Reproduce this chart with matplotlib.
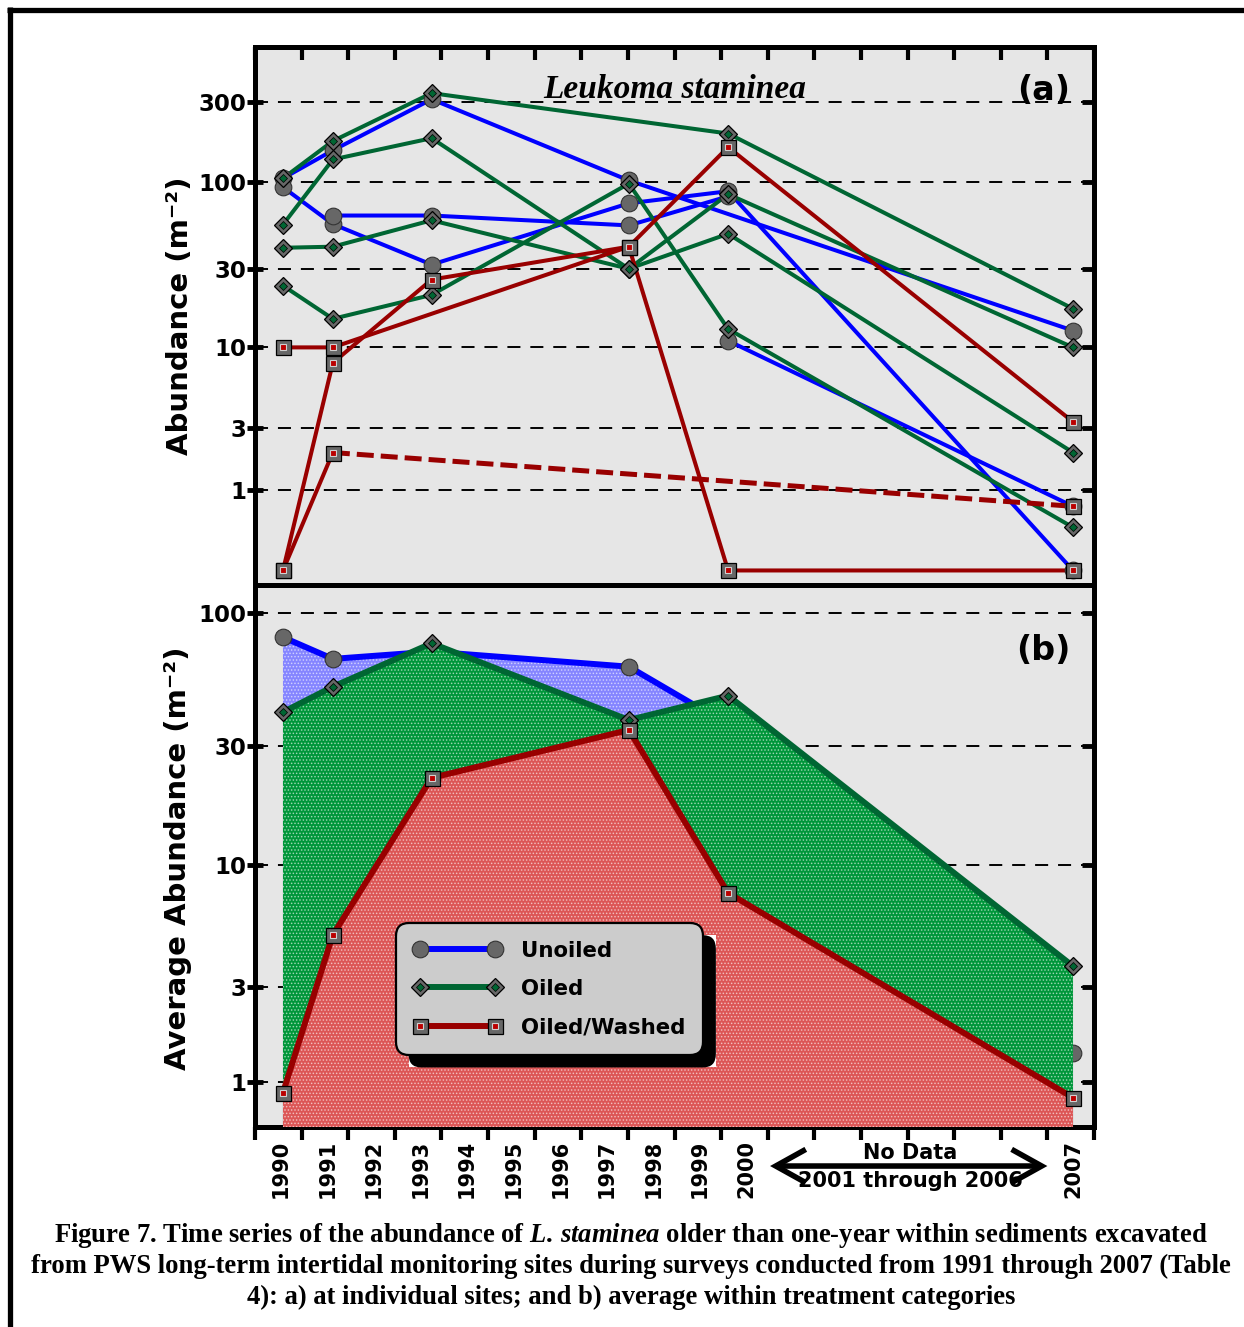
import numpy as np
import matplotlib.pyplot as plt
import matplotlib.lines as mlines
from matplotlib.patches import FancyBboxPatch, Rectangle
from matplotlib.legend_handler import HandlerTuple
from matplotlib.ticker import NullLocator

plt.rcParams['font.family'] = 'DejaVu Sans'
plt.rcParams['font.weight'] = 'bold'
plt.rcParams['mathtext.fontset'] = 'custom'
plt.rcParams['mathtext.rm'] = 'Liberation Serif:bold'
plt.rcParams['mathtext.it'] = 'Liberation Serif:italic:bold'
plt.rcParams['hatch.linewidth'] = 0.7

nan = np.nan

# survey dates as plotted (decimal years)
survey_x = [1990.6, 1991.67, 1993.79, 1998.02, 2000.15, 2007.55]

# (a) abundance per m2 at the individual sites, nan = not sampled
unoiled_sites = [
    [105, 154, 310, 102, nan, 12.7],
    [93, 56, 32, 74.5, 88, 0],
    [nan, 63, 63, 55, 82, nan],
    [nan, nan, nan, nan, 11, 0.7],
]
oiled_sites = [
    [105, 175, 337, nan, 194, 17.3],
    [55.6, 136, 182, 30.2, 84.4, 10],
    [40.4, 41, 59, 30.2, 49, 2.0],
    [23.9, 15, 21, 97.7, 13, 0.4],
]
washed_sites = [
    [10, 10, nan, 41, 161, 3.3],
    [0, 8, 26, 41, 0, 0],
    [0, 2, nan, nan, nan, 0.7],
]
# line becomes dashed after this point (long gap in the record)
washed_dash_from = [None, None, 1]

# (b) average within treatment
unoiled_avg = [80.4, 66.1, 70.6, 61.6, 36.4, 1.45]
oiled_avg = [40.8, 51.4, 76.1, 38.0, 47.4, 3.73]
washed_avg = [0.86, 5.1, 22.4, 34.7, 7.66, 0.80]

year_ticks = list(range(1990, 2009))
year_labels = ['1990', '1991', '1992', '1993', '1994', '1995', '1996',
               '1997', '1998', '1999', '2000', '2007']
yticks_a = [1, 3, 10, 30, 100, 300]
yticks_b = [1, 3, 10, 30, 100]

BLUE = '#0000ff'
GREEN = '#006633'
RED = '#990000'
GRAY = '#676767'
BG = '#e6e6e6'


def fwd(v):
    return np.log10(np.clip(np.asarray(v, float) + 0.5, 1e-6, None))


def inv(t):
    return 10 ** np.asarray(t, float) - 0.5


def put_markers(ax, xs, ys, kind, z):
    if kind == 'unoiled':
        ax.plot(xs, ys, ls='none', marker='o', ms=12, mfc=GRAY, mec='#333333',
                mew=0.8, zorder=z)
    elif kind == 'oiled':
        ax.plot(xs, ys, ls='none', marker='D', ms=9.2, mfc=GRAY, mec='black',
                mew=0.9, zorder=z)
        ax.plot(xs, ys, ls='none', marker='D', ms=4.2, mfc=GREEN, mec='black',
                mew=0.5, zorder=z)
    else:
        ax.plot(xs, ys, ls='none', marker='s', ms=10.8, mfc=GRAY, mec='black',
                mew=0.9, zorder=z)
        ax.plot(xs, ys, ls='none', marker='s', ms=5, mfc='#bb0000', mec='#d0d0d0',
                mew=0.8, zorder=z)


def style_axes(ax, yticks, ylim):
    ax.set_facecolor(BG)
    ax.set_yscale('function', functions=(fwd, inv))
    ax.set_ylim(*ylim)
    ax.set_xlim(1990, 2008)
    ax.set_yticks(yticks, labels=[str(t) for t in yticks])
    ax.yaxis.set_minor_locator(NullLocator())
    ax.tick_params(axis='y', which='major', left=True, right=False,
                   direction='inout', length=11, width=3.5, pad=1, labelsize=16.5)
    ax.grid(axis='y', which='major', color='k', lw=1.4, linestyle=(0, (6.7, 5.1)))
    ax.set_axisbelow(True)
    for s in ax.spines.values():
        s.set_linewidth(3.6)
    # inward ticks on the right edge
    ax.plot([1] * len(yticks), yticks, ls='none', marker=mlines.TICKLEFT, ms=9,
            mew=3.5, color='k', transform=ax.get_yaxis_transform(), clip_on=False,
            zorder=6)


fig = plt.figure(figsize=(12.44, 13.27), dpi=100)
ax_a = fig.add_axes([255 / 1244, 1 - 585 / 1327, 839 / 1244, 538 / 1327])
ax_b = fig.add_axes([255 / 1244, 1 - 1127 / 1327, 839 / 1244, 542 / 1327])

style_axes(ax_a, yticks_a, (-0.09, 633))
style_axes(ax_b, yticks_b, (0.5, 128.7))

# ---- panel (a): individual sites
x = np.array(survey_x)
for sites, color, kind in [(unoiled_sites, BLUE, 'unoiled'),
                           (oiled_sites, GREEN, 'oiled')]:
    for vals in sites:
        y = np.array(vals, float)
        m = ~np.isnan(y)
        ax_a.plot(x[m], y[m], color=color, lw=2.9, zorder=3)

for vals, dash_from in zip(washed_sites, washed_dash_from):
    y = np.array(vals, float)
    m = ~np.isnan(y)
    xv, yv = x[m], y[m]
    if dash_from is None:
        ax_a.plot(xv, yv, color=RED, lw=2.9, zorder=3)
    else:
        ax_a.plot(xv[:dash_from + 1], yv[:dash_from + 1], color=RED, lw=2.9, zorder=3)
        ax_a.plot(xv[dash_from:], yv[dash_from:], color=RED, lw=3.6,
                  linestyle=(0, (3.4, 1.4)), zorder=3)

for sites, kind, z in [(unoiled_sites, 'unoiled', 4), (oiled_sites, 'oiled', 4.1),
                       (washed_sites, 'washed', 4.2)]:
    for vals in sites:
        y = np.array(vals, float)
        m = ~np.isnan(y)
        put_markers(ax_a, x[m], y[m], kind, z)

ax_a.xaxis.set_ticks_position('top')
ax_a.set_xticks(year_ticks)
ax_a.tick_params(axis='x', which='both', top=True, bottom=False, labeltop=False,
                 labelbottom=False, direction='in', length=9.5, width=3)

ax_a.text(0.5006, 0.905, 'Leukoma staminea', transform=ax_a.transAxes, ha='center',
          va='baseline', fontfamily='Liberation Serif', fontstyle='italic',
          fontweight='bold', fontsize=24, zorder=7)
ax_a.text(0.9714, 0.92, '(a)', transform=ax_a.transAxes, ha='right', va='center',
          fontsize=24, fontweight='bold', zorder=7)

# ---- panel (b): treatment averages, filled to the bottom
fills = [(unoiled_avg, BLUE, '#8585ff', 'unoiled'),
         (oiled_avg, GREEN, '#00963a', 'oiled'),
         (washed_avg, RED, '#dc5656', 'washed')]
z = 1
for vals, color, fillc, kind in fills:
    with plt.rc_context({'hatch.color': (1, 1, 1, 0.55)}):
        ax_b.fill_between(survey_x, vals, 0.5, facecolor=fillc, edgecolor='none',
                          lw=0, hatch='.....', zorder=z)
    ax_b.plot(survey_x, vals, color=color, lw=4.3, zorder=z + 0.1)
    put_markers(ax_b, survey_x, vals, kind, z + 0.2)
    z += 1

ax_b.set_xticks(year_ticks)
ax_b.set_xticks([int(t) + 0.55 for t in year_labels], labels=year_labels, minor=True)
ax_b.tick_params(axis='x', which='major', top=False, bottom=True, direction='out',
                 length=9.5, width=3, labelbottom=False)
ax_b.tick_params(axis='x', which='minor', top=False, bottom=True, length=0, pad=9,
                 labelsize=15, labelrotation=90)
ax_b.text(0.9714, 0.88, '(b)', transform=ax_b.transAxes, ha='right', va='center',
          fontsize=24, fontweight='bold', zorder=7)

tr = ax_b.get_xaxis_transform()
ax_b.annotate('', xy=(2001.05, -0.072), xytext=(2007.0, -0.072), xycoords=tr,
              textcoords=tr, annotation_clip=False,
              arrowprops=dict(arrowstyle='<->,head_length=0.72,head_width=0.4',
                              mutation_scale=30, lw=4, color='k', shrinkA=0,
                              shrinkB=0, joinstyle='miter', capstyle='butt'))
ax_b.text(2004.05, -0.048, 'No Data', transform=tr, ha='center', va='center',
          fontsize=15, fontweight='bold', clip_on=False)
ax_b.text(2004.05, -0.0996, '2001 through 2006', transform=tr, ha='center',
          va='center', fontsize=15, fontweight='bold', clip_on=False)

# legend
h_un = mlines.Line2D([], [], color=BLUE, lw=4.3, marker='o', ms=12, mfc=GRAY,
                     mec='#333333', mew=0.8)
h_oil = (mlines.Line2D([], [], color=GREEN, lw=4.3, marker='D', ms=9.2, mfc=GRAY,
                       mec='k', mew=0.9),
         mlines.Line2D([], [], ls='none', marker='D', ms=4.2, mfc=GREEN, mec='k',
                       mew=0.5))
h_wash = (mlines.Line2D([], [], color=RED, lw=4.3, marker='s', ms=10.8, mfc=GRAY,
                        mec='k', mew=0.9),
          mlines.Line2D([], [], ls='none', marker='s', ms=5, mfc='#bb0000',
                        mec='#d0d0d0', mew=0.8))
leg = ax_b.legend([h_un, h_oil, h_wash], ['Unoiled', 'Oiled', 'Oiled/Washed'],
                  handler_map={tuple: HandlerTuple(ndivide=1, pad=0)}, numpoints=2,
                  loc='upper left', bbox_to_anchor=(396 / 1244, 1 - 922.7 / 1327),
                  bbox_transform=fig.transFigure, borderaxespad=0,
                  prop={'size': 15.3, 'weight': 'bold'}, handlelength=4.1,
                  handletextpad=0.95, labelspacing=0.86, borderpad=0.84,
                  fancybox=True, framealpha=1, facecolor='#cccccc',
                  edgecolor='black')
leg.get_frame().set_linewidth(1.6)
leg.get_frame().set_boxstyle('round', pad=0, rounding_size=0.62)
leg.set_zorder(20)

# y labels
fig.text(180 / 1244, 1 - 316 / 1327, 'Abundance (m\u207b\u00b2)', rotation=90,
         ha='center', va='center', fontsize=21, fontweight='bold')
fig.text(178 / 1244, 1 - 858 / 1327, 'Average Abundance (m\u207b\u00b2)', rotation=90,
         ha='center', va='center', fontsize=21, fontweight='bold')

# caption
caption = [
    r'Figure 7. Time series of the abundance of $\mathit{L.\,staminea}$ '
    r'older than one-year within sediments excavated',
    'from PWS long-term intertidal monitoring sites during surveys conducted from '
    '1991 through 2007 (Table',
    '4): a) at individual sites; and b) average within treatment categories',
]
for line, yy in zip(caption, [1236, 1266, 1297]):
    fig.text(0.507, 1 - yy / 1327, line, ha='center', va='center',
             fontfamily='Liberation Serif', fontweight='bold', fontsize=19.2)

# page frame
fig.add_artist(mlines.Line2D([7 / 1244, 1.0], [1 - 10 / 1327] * 2, color='k', lw=3.8,
                             transform=fig.transFigure, solid_capstyle='butt'))
fig.add_artist(mlines.Line2D([10 / 1244] * 2, [0, 1 - 7 / 1327], color='k', lw=3.8,
                             transform=fig.transFigure, solid_capstyle='butt'))

# legend shadow (black, offset) and the white box behind it
fig.canvas.draw()
bb = leg.get_frame().get_window_extent()
to_fig = fig.transFigure.inverted()
x0, y0 = to_fig.transform((bb.x0 + 12.5, bb.y0 - 12.5))
x1, y1 = to_fig.transform((bb.x1 + 12.5, bb.y1 - 12.5))
ax_b.add_patch(Rectangle((x0, y0), x1 - x0, y1 - y0, transform=fig.transFigure,
                         fc='white', ec='none', zorder=18, clip_on=False))
ax_b.add_patch(FancyBboxPatch((x0, y0), x1 - x0, y1 - y0,
                              boxstyle='round,pad=0,rounding_size=0.0102',
                              transform=fig.transFigure, fc='black', ec='none',
                              zorder=19, clip_on=False))

fig.savefig('out.png', dpi=100)
